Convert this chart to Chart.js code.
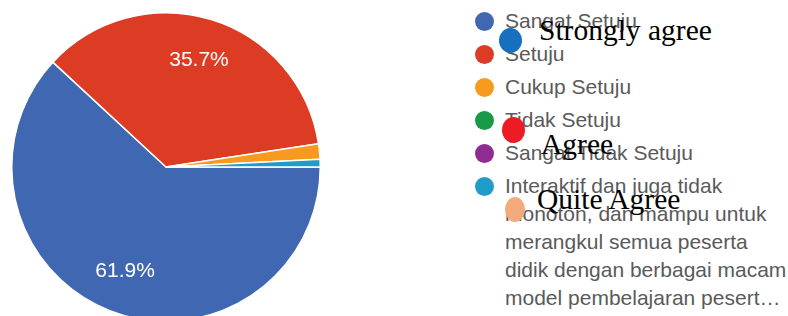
<!DOCTYPE html>
<html lang="id">
<head>
  <meta charset="UTF-8">
  <title>Pie Chart</title>
  <script src="https://cdn.jsdelivr.net/npm/chart.js"></script>
  <style>
    html, body {
      margin: 0;
      padding: 0;
      overflow: hidden;
      background: #fff;
      width: 788px;
      height: 316px;
    }
    #chartBox {
      position: absolute;
      left: 0;
      top: 0;
      width: 332px;
      height: 334px;
    }
    .legend {
      position: absolute;
      left: 475px;
      top: 7px;
      font-family: "Liberation Sans", Arial, sans-serif;
      font-size: 21px;
      line-height: 28px;
      color: #5a5a5a;
    }
    .legend-item {
      display: flex;
      align-items: flex-start;
      margin-bottom: 5px;
    }
    .legend-color {
      flex: none;
      width: 19px;
      height: 19px;
      border-radius: 50%;
      margin-top: 4.5px;
      margin-right: 11px;
    }
    .legend-text {
      width: 286px;
      display: -webkit-box;
      -webkit-box-orient: vertical;
      -webkit-line-clamp: 5;
      overflow: hidden;
    }
    .note-dot {
      position: absolute;
      border-radius: 50%;
    }
    .note-text {
      position: absolute;
      font-family: "Liberation Serif", "Times New Roman", serif;
      font-size: 29.5px;
      line-height: 29.5px;
      color: #000;
      white-space: nowrap;
    }
  </style>
</head>
<body>

  <div id="chartBox"><canvas id="pieChart"></canvas></div>
  <div class="legend" id="legend"></div>

  <!-- annotations pasted on top of the legend -->
  <div class="note-dot" style="left:499px; top:28px; width:23px; height:25px; background:#1670bd;"></div>
  <div class="note-text" style="left:539px; top:16px;">Strongly agree</div>
  <div class="note-dot" style="left:502px; top:117px; width:23px; height:26px; background:#ed1c24;"></div>
  <div class="note-text" style="left:541px; top:130px;">Agree</div>
  <div class="note-dot" style="left:505px; top:197px; width:20px; height:25px; background:#f3ab7c;"></div>
  <div class="note-text" style="left:537px; top:185px;">Quite Agree</div>

  <script>
    const labels = [
      'Sangat Setuju',
      'Setuju',
      'Cukup Setuju',
      'Tidak Setuju',
      'Sangat Tidak Setuju',
      'Interaktif dan juga tidak monoton, dan mampu untuk merangkul semua peserta didik dengan berbagai macam model pembelajaran peserta didik'
    ];
    const percents = [61.9, 35.7, 1.6, 0, 0, 0.8];
    const colors = ['#4068b2', '#dc3b24', '#f79a1e', '#179a48', '#8f2b92', '#1e9dcb'];

    // Legend
    const legendEl = document.getElementById('legend');
    labels.forEach((label, i) => {
      const item = document.createElement('div');
      item.className = 'legend-item';
      item.innerHTML = '<div class="legend-color" style="background-color:' + colors[i] + ';"></div>' +
        '<div class="legend-text"></div>';
      item.querySelector('.legend-text').textContent = label;
      legendEl.appendChild(item);
    });

    // percentage labels inside the big slices
    const sliceLabels = {
      id: 'sliceLabels',
      afterDatasetsDraw(chart) {
        const ctx = chart.ctx;
        const meta = chart.getDatasetMeta(0);
        ctx.save();
        ctx.fillStyle = '#ffffff';
        ctx.font = '21px "Liberation Sans", Arial, sans-serif';
        ctx.textAlign = 'center';
        ctx.textBaseline = 'middle';
        meta.data.forEach((arc, i) => {
          const v = percents[i];
          if (v < 5) return;
          const p = arc.getProps(['x', 'y', 'startAngle', 'endAngle', 'outerRadius'], true);
          const mid = (p.startAngle + p.endAngle) / 2;
          const r = p.outerRadius * 0.727;
          ctx.fillText(v.toFixed(1) + '%', p.x + Math.cos(mid) * r, p.y + Math.sin(mid) * r);
        });
        ctx.restore();
      }
    };

    const ctx = document.getElementById('pieChart').getContext('2d');
    new Chart(ctx, {
      type: 'pie',
      data: {
        labels: labels,
        datasets: [{
          data: percents,
          backgroundColor: colors,
          borderColor: '#ffffff',
          borderWidth: 1.5
        }]
      },
      options: {
        responsive: true,
        maintainAspectRatio: false,
        animation: false,
        rotation: 90,
        layout: { padding: { left: 11, right: 11, top: 12, bottom: 12 } },
        plugins: {
          legend: { display: false },
          tooltip: { enabled: false }
        }
      },
      plugins: [sliceLabels]
    });
  </script>

</body>
</html>
